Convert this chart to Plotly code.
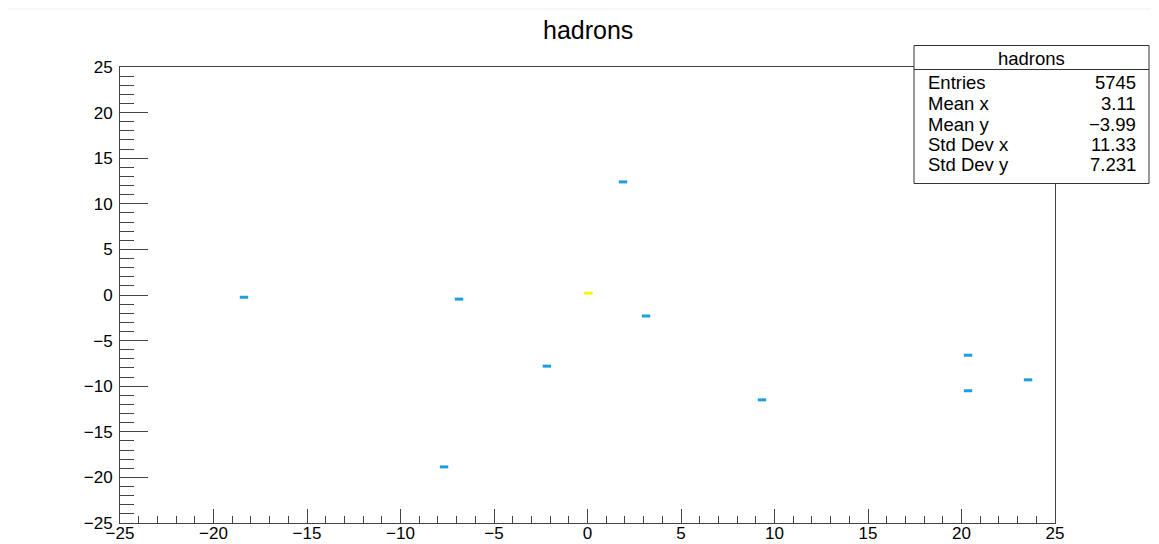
import plotly.graph_objects as go

# Bin centres of the filled cells
bin_x = [-18.37, -6.87, 0.05, 1.9, 3.13, -2.17, -7.67, 9.33, 20.35, 20.35, 23.56]
bin_y = [-0.25, -0.45, 0.2, 12.4, -2.3, -7.8, -18.85, -11.5, -6.6, -10.5, -9.3]
bin_counts = [1, 1, 5735, 1, 1, 1, 1, 1, 1, 1, 1]

title_text = "hadrons"
stat_names = ["Entries", "Mean x", "Mean y", "Std Dev x", "Std Dev y"]
stat_values = ["5745", "3.11", "\u22123.99", "11.33", "7.231"]

FONT = "Liberation Sans, Arial, Helvetica, sans-serif"

fig = go.Figure()
fig.add_trace(go.Scatter(
    x=bin_x, y=bin_y, mode="markers",
    marker=dict(
        symbol="line-ew", size=6,
        line=dict(width=3, color=bin_counts,
                  colorscale=[[0, "#1c9ee0"], [1, "#f5f50c"]],
                  cmin=min(bin_counts), cmax=max(bin_counts)),
    ),
    hoverinfo="x+y", showlegend=False,
))

axis_common = dict(
    showgrid=False, zeroline=False, showline=True, linecolor="#444",
    linewidth=1, mirror=True, ticks="inside", tickcolor="#444",
    tickfont=dict(family=FONT, size=17, color="#000"),
    dtick=5, tick0=0, automargin=False,
)

fig.update_xaxes(range=[-25, 25], ticklen=14,
                 minor=dict(dtick=1, ticks="inside", ticklen=7, tickcolor="#444"),
                 ticklabelstandoff=-5, **axis_common)
fig.update_yaxes(range=[-25, 25], ticklen=28,
                 minor=dict(dtick=1, ticks="inside", ticklen=14, tickcolor="#444"),
                 ticklabelstandoff=3, **axis_common)

# page offset introduced by the default body margin
OFF = 8
# frame position on the page (pixels)
L, R = 120, 1055
T, B = 67, 523
W, H = R - L, B - T
def px(xp): return (xp - L) / W
def py(yp): return (B - yp) / H

shapes = [
    dict(type="line", xref="paper", yref="paper", x0=px(0), x1=px(1159),
         y0=py(9), y1=py(9), line=dict(color="#eeeeee", width=1)),
    dict(type="rect", xref="paper", yref="paper", x0=px(914), x1=px(1149),
         y0=py(183.5), y1=py(45.5), fillcolor="white",
         line=dict(color="#333", width=1)),
    dict(type="line", xref="paper", yref="paper", x0=px(914), x1=px(1149),
         y0=py(69.5), y1=py(69.5), line=dict(color="#333", width=1)),
]

annotations = [
    dict(text=title_text, xref="paper", yref="paper", x=px(588), y=py(30),
         xanchor="center", yanchor="middle", showarrow=False,
         font=dict(family=FONT, size=25, color="#000")),
    dict(text=title_text, xref="paper", yref="paper", x=px(1031.5), y=py(58),
         xanchor="center", yanchor="middle", showarrow=False,
         font=dict(family=FONT, size=18.5, color="#000")),
]
row_y = [82.5, 103.5, 124, 144.5, 164.5]
for name, val, ry in zip(stat_names, stat_values, row_y):
    annotations.append(dict(text=name, xref="paper", yref="paper", x=px(926), y=py(ry),
                            xanchor="left", yanchor="middle", showarrow=False,
                            font=dict(family=FONT, size=18.5, color="#000")))
    annotations.append(dict(text=val, xref="paper", yref="paper", x=px(1138), y=py(ry),
                            xanchor="right", yanchor="middle", showarrow=False,
                            font=dict(family=FONT, size=18.5, color="#000")))

fig.update_layout(
    width=1159 - OFF, height=544 - OFF,
    margin=dict(l=L - OFF, r=1159 - R, t=T - OFF, b=544 - B, pad=0, autoexpand=False),
    paper_bgcolor="white", plot_bgcolor="white",
    shapes=shapes, annotations=annotations,
    font=dict(family=FONT),
)

fig.write_html("out.html")
